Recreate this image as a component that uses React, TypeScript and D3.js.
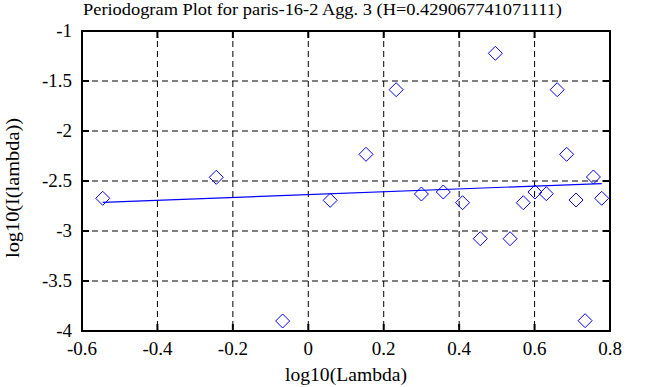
import React from "react";
import * as d3 from "d3";

const TITLE = "Periodogram Plot for paris-16-2 Agg. 3 (H=0.429067741071111)";
const X_LABEL = "log10(Lambda)";
const Y_LABEL = "log10(I(lambda))";

const xValues = [
  -0.545, -0.244, -0.068, 0.058, 0.153, 0.233, 0.3, 0.358, 0.409, 0.456, 0.496,
  0.535, 0.57, 0.601, 0.631, 0.66, 0.685, 0.71, 0.734, 0.756, 0.778,
];
const yValues = [
  -2.673, -2.463, -3.9, -2.693, -2.233, -1.587, -2.63, -2.61, -2.717, -3.077, -1.223,
  -3.077, -2.717, -2.61, -2.627, -1.587, -2.233, -2.69, -3.897, -2.46, -2.673,
];
const H = 0.429067741071111;
const fitIntercept = -2.636;

const xTicks = [-0.6, -0.4, -0.2, 0, 0.2, 0.4, 0.6, 0.8];
const yTicks = [-1, -1.5, -2, -2.5, -3, -3.5, -4];

const W = 653;
const Hgt = 387;
const left = 82, right = 610, top = 31, bottom = 331;
const FONT = "'Liberation Serif', 'Times New Roman', Times, serif";

export default function App() {
  const x = d3.scaleLinear().domain([-0.6, 0.8]).range([left, right]);
  const y = d3.scaleLinear().domain([-4, -1]).range([bottom, top]);
  const slope = 1 - 2 * H;
  const x0 = d3.min(xValues)!;
  const x1 = d3.max(xValues)!;
  const fit = d3.line<number>().x((v) => x(v)).y((v) => y(fitIntercept + slope * v));
  const fmt = (v: number) => String(v);
  const diamond = (cx: number, cy: number, r: number) =>
    `M${cx},${cy - r}L${cx + r},${cy}L${cx},${cy + r}L${cx - r},${cy}Z`;
  return (
    <svg
      width={W}
      height={Hgt}
      style={{ position: "absolute", left: 0, top: 0, background: "#fff" }}
    >
      <rect x={0} y={0} width={W} height={Hgt} fill="#fff" />
      {xTicks.slice(1, -1).map((t) => (
        <line key={"gx" + t} x1={x(t)} x2={x(t)} y1={top} y2={bottom} stroke="#000" strokeWidth={1} strokeDasharray="6,4" />
      ))}
      {yTicks.slice(1, -1).map((t) => (
        <line key={"gy" + t} x1={left} x2={right} y1={y(t)} y2={y(t)} stroke="#000" strokeWidth={1} strokeDasharray="6,4" />
      ))}
      {xTicks.map((t) => (
        <g key={"tx" + t}>
          <line x1={x(t)} x2={x(t)} y1={bottom} y2={bottom - 7} stroke="#000" strokeWidth={2} />
          <line x1={x(t)} x2={x(t)} y1={top} y2={top + 7} stroke="#000" strokeWidth={2} />
          <text x={x(t)} y={355} textAnchor="middle" fontSize={19} fontFamily={FONT}>{fmt(t)}</text>
        </g>
      ))}
      {yTicks.map((t) => (
        <g key={"ty" + t}>
          <line x1={left} x2={left + 7} y1={y(t)} y2={y(t)} stroke="#000" strokeWidth={2} />
          <line x1={right} x2={right - 7} y1={y(t)} y2={y(t)} stroke="#000" strokeWidth={2} />
          <text x={72} y={y(t) + 6} textAnchor="end" fontSize={19} fontFamily={FONT}>{fmt(t)}</text>
        </g>
      ))}
      <rect x={left} y={top} width={right - left} height={bottom - top} fill="none" stroke="#000" strokeWidth={2} />
      <path d={fit([x0, x1]) || ""} fill="none" stroke="#0000ff" strokeWidth={1.2} />
      {xValues.map((v, i) => (
        <path key={"p" + i} d={diamond(x(v), y(yValues[i]), 7)} fill="none" stroke="#0000ff" strokeWidth={1} />
      ))}
      <text x={83} y={15} fontSize={17} fontFamily={FONT} textLength={479} lengthAdjust="spacingAndGlyphs">{TITLE}</text>
      <text x={285} y={381} fontSize={18} fontFamily={FONT} textLength={122} lengthAdjust="spacingAndGlyphs">{X_LABEL}</text>
      <text transform={`translate(19,258) rotate(-90)`} fontSize={18} fontFamily={FONT} textLength={140} lengthAdjust="spacingAndGlyphs">{Y_LABEL}</text>
    </svg>
  );
}
